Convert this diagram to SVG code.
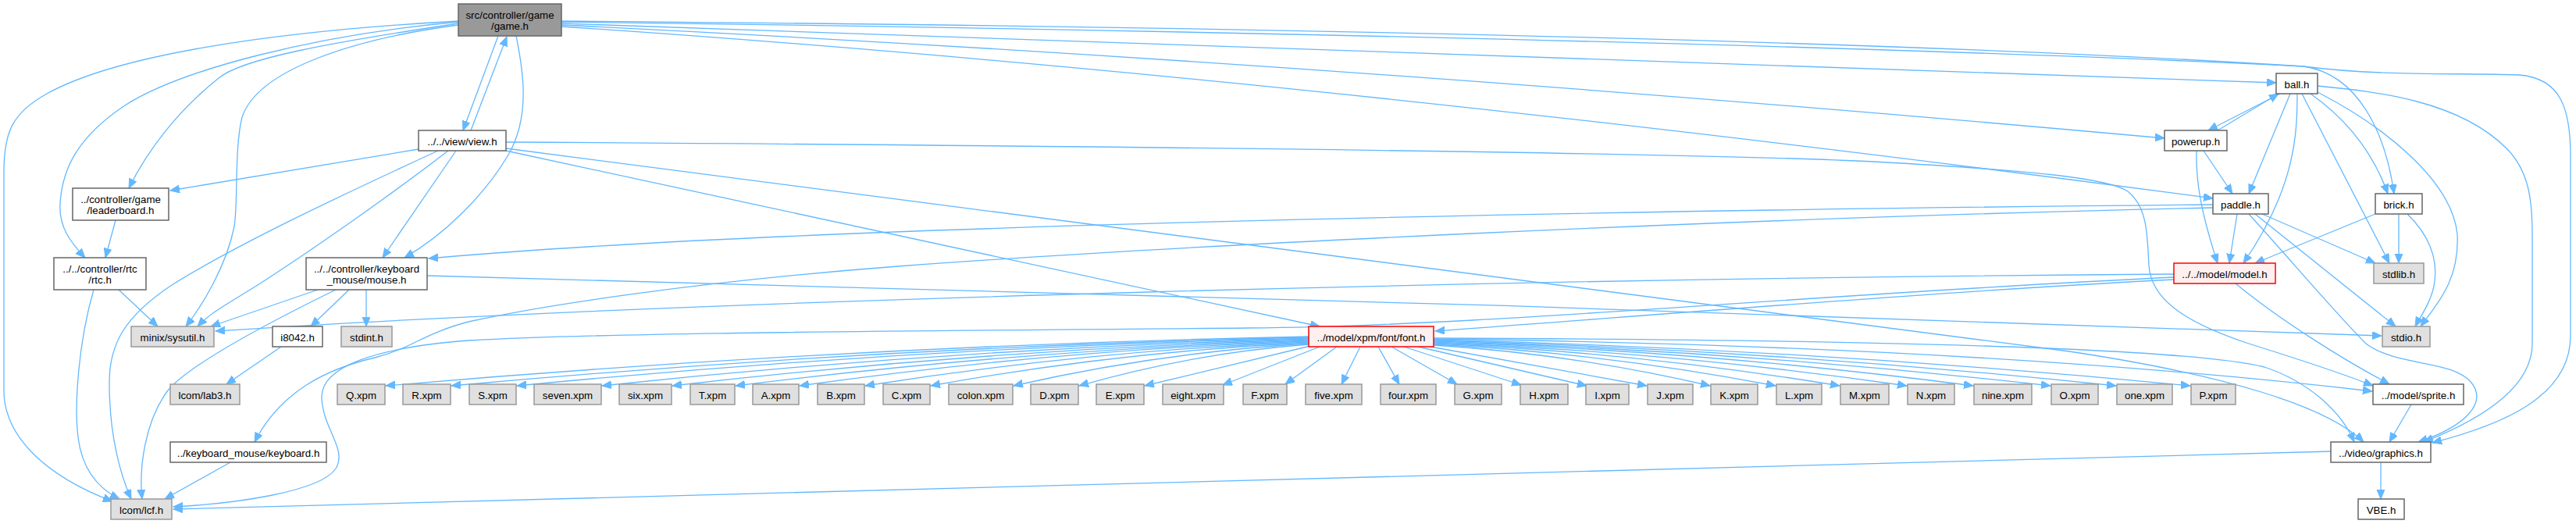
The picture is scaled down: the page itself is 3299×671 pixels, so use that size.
<svg xmlns="http://www.w3.org/2000/svg" width="3299" height="671" viewBox="0 0 3299 671">
<defs>
<style>
rect{stroke-width:1.5}
.w{fill:#ffffff;stroke:#666666}
.g{fill:#e0e0e0;stroke:#999999}
.r{fill:#fff0f0;stroke:#ff0000}
.root{fill:#999999;stroke:#666666}
text{font-family:"Liberation Sans",Arial,sans-serif;font-size:13.3px;text-anchor:middle;fill:#000000}
#edges path{fill:none;stroke:#63b8ff;stroke-width:1.3;marker-end:url(#a)}
</style>
<marker id="a" markerUnits="userSpaceOnUse" markerWidth="14" markerHeight="12" refX="12" refY="5" orient="auto"><path d="M0,0 L12,5 L0,10 z" fill="#63b8ff" stroke="#63b8ff" stroke-width="1"/></marker>
</defs>
<rect width="3299" height="671" fill="#ffffff"/>
<g id="edges">
<!-- game.h -->
<path d="M587,27 C350,40 150,70 60,120 C15,145 5,170 5,220 L5,500 C5,560 60,610 144,642"/>
<path d="M587,28 C400,45 230,90 160,135 C100,175 80,215 77,260 C75,290 90,310 109,330"/>
<path d="M587,30 C420,55 310,75 280,100 C230,140 190,190 165,241"/>
<path d="M587,32 C450,50 330,90 310,150 C300,190 305,260 300,290 C290,340 260,390 238,418"/>
<path d="M638,46 L593,167"/>
<path d="M661,46 C670,90 680,150 650,200 C620,250 570,300 518,330"/>
<path d="M719,27 C1500,33 2400,50 2950,85 C3050,98 3150,93 3226,96 C3280,100 3292,140 3292,200 L3292,430 C3292,510 3200,545 3115,567"/>
<path d="M719,28 C1500,38 2400,58 2950,85 C3020,95 3055,170 3066,248"/>
<path d="M719,30 L2915,106"/>
<path d="M719,32 Q1700,80 2772,177"/>
<path d="M719,34 Q1650,96 2834,254"/>
<!-- view.h -->
<path d="M603,167 L649,47"/>
<path d="M536,191 L218,244"/>
<path d="M561,193 C420,258 300,315 220,365 C160,405 140,440 140,490 C140,560 155,610 168,639"/>
<path d="M574,193 C500,250 400,320 330,365 C290,390 270,400 253,418"/>
<path d="M584,193 L490,330"/>
<path d="M648,193 L1690,418"/>
<path d="M648,190 L2650,450 C2850,480 2980,520 3027,566"/>
<path d="M648,182 C1500,187 2200,197 2400,207 C2600,218 2700,228 2725,245 C2750,265 2750,300 2752,340 C2755,380 2790,410 2880,440 C2950,462 3000,478 3039,494"/>
<!-- leaderboard, rtc -->
<path d="M148,282 L135,330"/>
<path d="M152,371 L202,418"/>
<path d="M120,371 C100,440 95,520 100,560 C105,600 125,625 153,639"/>
<!-- mouse.h -->
<path d="M407,371 L270,418"/>
<path d="M430,371 C330,420 240,470 215,500 C185,540 178,600 182,639"/>
<path d="M447,371 L398,418"/>
<path d="M469,371 L469,418"/>
<path d="M547,353 C1200,367 2300,402 3050,430"/>
<!-- i8042, keyboard -->
<path d="M360,444 L290,492"/>
<path d="M295,592 L211,639"/>
<!-- paddle.h -->
<path d="M2834,262 C2000,270 1000,290 549,331"/>
<path d="M2834,266 C2200,280 1500,315 1150,341 C900,360 700,390 600,412 C540,428 530,445 480,458 C420,472 360,500 326,566"/>
<path d="M2865,274 L2855,337"/>
<path d="M2880,274 C2940,340 2990,400 3030,440 C3070,470 3140,460 3165,490 C3185,515 3160,545 3097,566"/>
<path d="M2888,274 L3068,418"/>
<path d="M2897,274 L3042,337"/>
<!-- ball.h -->
<path d="M2920,120 L2828,167"/>
<path d="M2933,120 L2880,248"/>
<path d="M2942,120 C2942,170 2940,240 2873,337"/>
<path d="M2948,120 L3060,337"/>
<path d="M2959,120 Q3030,170 3058,248"/>
<path d="M2968,118 C3050,160 3140,230 3147,300 C3150,360 3120,390 3100,418"/>
<path d="M2968,110 C3050,118 3150,130 3210,190 C3240,220 3243,260 3243,300 L3243,440 C3243,500 3170,540 3104,566"/>
<!-- powerup.h -->
<path d="M2840,167 L2918,120"/>
<path d="M2813,193 C2812,230 2818,270 2840,337"/>
<path d="M2822,193 L2859,248"/>
<!-- brick.h -->
<path d="M3042,274 L2888,337"/>
<path d="M3072,274 L3072,337"/>
<path d="M3083,274 C3110,300 3122,330 3118,360 C3115,385 3100,405 3093,418"/>
<!-- model.h -->
<path d="M2784,351 C2000,356 900,383 276,424"/>
<path d="M2784,355 C2300,378 1900,418 1600,420 C1200,424 800,425 600,436 C480,445 410,470 412,510 C414,550 445,575 430,600 C410,630 300,645 222,649"/>
<path d="M2784,358 C2500,372 2100,405 1838,424"/>
<path d="M2863,363 C2920,410 3000,460 3060,492"/>
<!-- sprite, graphics -->
<path d="M3088,518 L3060,566"/>
<path d="M3049,592 L3049,639"/>
<path d="M2985,578 L222,652"/>
<!-- font.h fan -->
<path d="M1676,431 Q1085,443 494,494"/>
<path d="M1676,432 Q1127,444 578,494"/>
<path d="M1676,433 Q1169,445 662,494"/>
<path d="M1676,434 Q1223,446 771,494"/>
<path d="M1676,435 Q1268,447 861,494"/>
<path d="M1676,436 Q1309,448 942,494"/>
<path d="M1676,437 Q1350,448 1024,494"/>
<path d="M1676,438 Q1392,449 1108,494"/>
<path d="M1676,439 Q1434,450 1192,494"/>
<path d="M1676,440 Q1487,451 1298,494"/>
<path d="M1676,441 Q1529,452 1382,494"/>
<path d="M1678,443 L1466,494"/>
<path d="M1690,444 L1566,493"/>
<path d="M1712,444 L1646,492"/>
<path d="M1742,444 L1718,492"/>
<path d="M1765,444 L1792,492"/>
<path d="M1782,444 L1866,492"/>
<path d="M1798,444 L1948,493"/>
<path d="M1816,444 L2032,494"/>
<path d="M1832,444 L2109,494"/>
<path d="M1836,442 Q2013,453 2190,494"/>
<path d="M1836,441 Q2055,452 2274,494"/>
<path d="M1836,440 Q2096,451 2356,494"/>
<path d="M1836,439 Q2139,450 2442,494"/>
<path d="M1836,438 Q2181,449 2527,494"/>
<path d="M1836,437 Q2231,449 2626,494"/>
<path d="M1836,436 Q2273,448 2710,494"/>
<path d="M1836,435 Q2320,447 2805,494"/>
<path d="M1836,434 C2300,440 2700,462 3038,501"/>
<path d="M1836,433 C2400,435 2800,445 2900,470 C2960,490 3000,530 3015,566"/>
</g>
<g id="node-game"><rect class="root" x="587" y="5" width="132" height="41"/><text x="653" y="24">src/controller/game</text><text x="653" y="38">/game.h</text></g>
<g id="node-view"><rect class="w" x="536" y="167" width="112" height="26"/><text x="592" y="186">../../view/view.h</text></g>
<g id="node-leaderboard"><rect class="w" x="93" y="241" width="123" height="41"/><text x="154.5" y="260">../controller/game</text><text x="154.5" y="274">/leaderboard.h</text></g>
<g id="node-rtc"><rect class="w" x="69" y="330" width="118" height="41"/><text x="128" y="349">../../controller/rtc</text><text x="128" y="363">/rtc.h</text></g>
<g id="node-mouse"><rect class="w" x="392" y="330" width="155" height="41"/><text x="469.5" y="349">../../controller/keyboard</text><text x="469.5" y="363">_mouse/mouse.h</text></g>
<g id="node-sysutil"><rect class="g" x="168" y="418" width="106" height="26"/><text x="221" y="437">minix/sysutil.h</text></g>
<g id="node-i8042"><rect class="w" x="349" y="418" width="64" height="26"/><text x="381" y="437">i8042.h</text></g>
<g id="node-stdint"><rect class="g" x="437" y="418" width="65" height="26"/><text x="469.5" y="437">stdint.h</text></g>
<g id="node-lab3"><rect class="g" x="218" y="492" width="89" height="26"/><text x="262.5" y="511">lcom/lab3.h</text></g>
<g id="node-keyboard"><rect class="w" x="218" y="566" width="200" height="26"/><text x="318" y="585">../keyboard_mouse/keyboard.h</text></g>
<g id="node-lcf"><rect class="g" x="142" y="639" width="78" height="26"/><text x="181" y="658">lcom/lcf.h</text></g>
<g id="node-font"><rect class="r" x="1676" y="418" width="160" height="26"/><text x="1756" y="437">../model/xpm/font/font.h</text></g>
<g id="node-model"><rect class="r" x="2784" y="337" width="130" height="26"/><text x="2849" y="356">../../model/model.h</text></g>
<g id="node-stdlib"><rect class="g" x="3040" y="337" width="64" height="26"/><text x="3072" y="356">stdlib.h</text></g>
<g id="node-stdio"><rect class="g" x="3051" y="418" width="61" height="26"/><text x="3081.5" y="437">stdio.h</text></g>
<g id="node-ball"><rect class="w" x="2915" y="94" width="53" height="26"/><text x="2941.5" y="113">ball.h</text></g>
<g id="node-powerup"><rect class="w" x="2772" y="167" width="80" height="26"/><text x="2812" y="186">powerup.h</text></g>
<g id="node-paddle"><rect class="w" x="2834" y="248" width="71" height="26"/><text x="2869.5" y="267">paddle.h</text></g>
<g id="node-brick"><rect class="w" x="3042" y="248" width="60" height="26"/><text x="3072" y="267">brick.h</text></g>
<g id="node-sprite"><rect class="w" x="3039" y="492" width="116" height="26"/><text x="3097" y="511">../model/sprite.h</text></g>
<g id="node-graphics"><rect class="w" x="2985" y="566" width="128" height="26"/><text x="3049" y="585">../video/graphics.h</text></g>
<g id="node-vbe"><rect class="w" x="3020" y="639" width="59" height="26"/><text x="3049.5" y="658">VBE.h</text></g>
<g id="node-Q"><rect class="g" x="432" y="492" width="61" height="26"/><text x="462.5" y="511">Q.xpm</text></g>
<g id="node-R"><rect class="g" x="516" y="492" width="61" height="26"/><text x="546.5" y="511">R.xpm</text></g>
<g id="node-S"><rect class="g" x="601" y="492" width="60" height="26"/><text x="631" y="511">S.xpm</text></g>
<g id="node-seven"><rect class="g" x="684" y="492" width="86" height="26"/><text x="727" y="511">seven.xpm</text></g>
<g id="node-six"><rect class="g" x="793" y="492" width="67" height="26"/><text x="826.5" y="511">six.xpm</text></g>
<g id="node-T"><rect class="g" x="884" y="492" width="57" height="26"/><text x="912.5" y="511">T.xpm</text></g>
<g id="node-A"><rect class="g" x="964" y="492" width="59" height="26"/><text x="993.5" y="511">A.xpm</text></g>
<g id="node-B"><rect class="g" x="1047" y="492" width="60" height="26"/><text x="1077" y="511">B.xpm</text></g>
<g id="node-C"><rect class="g" x="1131" y="492" width="60" height="26"/><text x="1161" y="511">C.xpm</text></g>
<g id="node-colon"><rect class="g" x="1215" y="492" width="82" height="26"/><text x="1256" y="511">colon.xpm</text></g>
<g id="node-D"><rect class="g" x="1320" y="492" width="61" height="26"/><text x="1350.5" y="511">D.xpm</text></g>
<g id="node-E"><rect class="g" x="1404" y="492" width="61" height="26"/><text x="1434.5" y="511">E.xpm</text></g>
<g id="node-eight"><rect class="g" x="1489" y="492" width="78" height="26"/><text x="1528" y="511">eight.xpm</text></g>
<g id="node-F"><rect class="g" x="1592" y="492" width="56" height="26"/><text x="1620" y="511">F.xpm</text></g>
<g id="node-five"><rect class="g" x="1672" y="492" width="72" height="26"/><text x="1708" y="511">five.xpm</text></g>
<g id="node-four"><rect class="g" x="1768" y="492" width="71" height="26"/><text x="1803.5" y="511">four.xpm</text></g>
<g id="node-G"><rect class="g" x="1863" y="492" width="60" height="26"/><text x="1893" y="511">G.xpm</text></g>
<g id="node-H"><rect class="g" x="1947" y="492" width="61" height="26"/><text x="1977.5" y="511">H.xpm</text></g>
<g id="node-I"><rect class="g" x="2031" y="492" width="55" height="26"/><text x="2058.5" y="511">I.xpm</text></g>
<g id="node-J"><rect class="g" x="2110" y="492" width="58" height="26"/><text x="2139" y="511">J.xpm</text></g>
<g id="node-K"><rect class="g" x="2191" y="492" width="60" height="26"/><text x="2221" y="511">K.xpm</text></g>
<g id="node-L"><rect class="g" x="2275" y="492" width="58" height="26"/><text x="2304" y="511">L.xpm</text></g>
<g id="node-M"><rect class="g" x="2357" y="492" width="62" height="26"/><text x="2388" y="511">M.xpm</text></g>
<g id="node-N"><rect class="g" x="2443" y="492" width="60" height="26"/><text x="2473" y="511">N.xpm</text></g>
<g id="node-nine"><rect class="g" x="2528" y="492" width="74" height="26"/><text x="2565" y="511">nine.xpm</text></g>
<g id="node-O"><rect class="g" x="2627" y="492" width="60" height="26"/><text x="2657" y="511">O.xpm</text></g>
<g id="node-one"><rect class="g" x="2711" y="492" width="71" height="26"/><text x="2746.5" y="511">one.xpm</text></g>
<g id="node-P"><rect class="g" x="2806" y="492" width="57" height="26"/><text x="2834.5" y="511">P.xpm</text></g>
</svg>
